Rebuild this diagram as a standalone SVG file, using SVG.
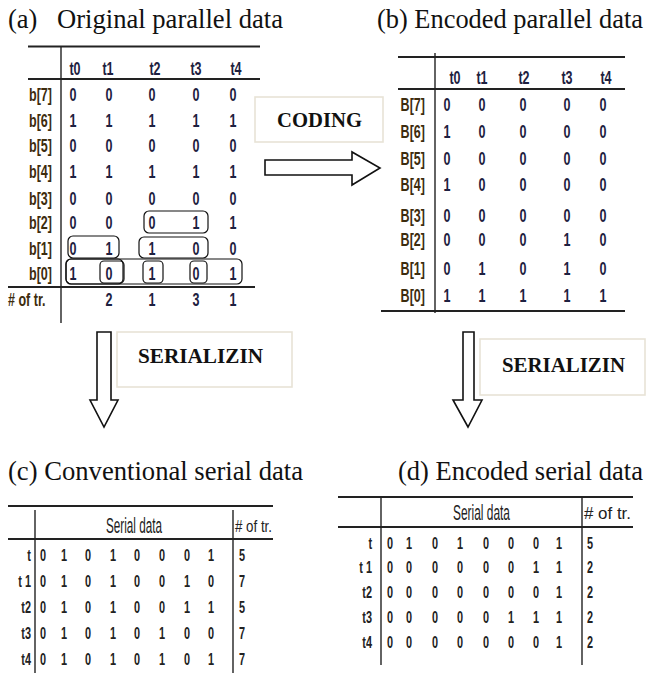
<svg xmlns="http://www.w3.org/2000/svg" width="646" height="673" viewBox="0 0 646 673">
  <style>
    .title { font-family: "Liberation Serif", "Times New Roman", serif; font-size: 26.5px; fill: #111; }
    .op { font-family: "Liberation Serif", "Times New Roman", serif; font-size: 21px; font-weight: bold; fill: #111; }
    .opbox { fill: #fff; stroke: #e8e3d6; stroke-width: 1.6; }
    .rule { stroke: #222; stroke-width: 2; fill: none; }
    .vrule { stroke: #222; stroke-width: 1.4; fill: none; }
    .pc { font-family: "Liberation Sans", Arial, sans-serif; font-size: 19px; font-weight: bold; text-anchor: middle; fill: #1e2140; }
    .pl { font-family: "Liberation Sans", Arial, sans-serif; font-size: 19px; font-weight: bold; text-anchor: end; fill: #3d2c0e; }
    .sc { font-family: "Liberation Sans", Arial, sans-serif; font-size: 16px; font-weight: bold; text-anchor: middle; fill: #222; }
    .sl { font-family: "Liberation Sans", Arial, sans-serif; font-size: 16px; font-weight: bold; text-anchor: end; fill: #222; }
    .sh { font-family: "Liberation Sans", Arial, sans-serif; font-size: 22px; fill: #222; }
    .st { font-family: "Liberation Sans", Arial, sans-serif; font-size: 17px; fill: #222; }
    .grp { fill: none; stroke: #111; stroke-width: 1.2; }
    .arrow { fill: #fff; stroke: #111; stroke-width: 1.6; stroke-linejoin: miter; }
  </style>

  <!-- panel titles -->
  <g id="title-a"><text class="title" y="28"><tspan x="8">(a)</tspan><tspan x="57" textLength="226" lengthAdjust="spacingAndGlyphs">Original parallel data</tspan></text></g>
  <g id="title-b"><text class="title" x="377" y="28" textLength="266" lengthAdjust="spacingAndGlyphs">(b) Encoded parallel data</text></g>
  <g id="title-c"><text class="title" x="8" y="480" textLength="295" lengthAdjust="spacingAndGlyphs">(c) Conventional serial data</text></g>
  <g id="title-d"><text class="title" x="398" y="480" textLength="245" lengthAdjust="spacingAndGlyphs">(d) Encoded serial data</text></g>

  <!-- (a) original parallel data -->
  <g id="table-a">
    <line class="rule" x1="28" y1="46.5" x2="260" y2="46.5"/>
    <line class="rule" x1="28" y1="79" x2="260" y2="79"/>
    <line class="rule" x1="8" y1="287" x2="255" y2="287"/>
    <line class="vrule" x1="61" y1="47" x2="61" y2="323"/>
    <g transform="scale(0.66,1)">
      <text class="pc" x="113.6" y="75">t0</text>
      <text class="pc" x="163.6" y="75">t1</text>
      <text class="pc" x="234.8" y="75">t2</text>
      <text class="pc" x="297" y="75">t3</text>
      <text class="pc" x="357.6" y="75">t4</text>
      <text class="pl" x="78.8" y="101.5">b[7]</text>
      <text class="pl" x="78.8" y="127">b[6]</text>
      <text class="pl" x="78.8" y="152">b[5]</text>
      <text class="pl" x="78.8" y="178">b[4]</text>
      <text class="pl" x="78.8" y="205">b[3]</text>
      <text class="pl" x="78.8" y="229">b[2]</text>
      <text class="pl" x="78.8" y="255">b[1]</text>
      <text class="pl" x="78.8" y="280">b[0]</text>
      <text class="pl" x="12.1" y="306" style="text-anchor:start">
# of tr.</text>
      <text class="pc" x="110.6 165.2 230.3 297 353" y="101.5">00000</text>
      <text class="pc" x="110.6 165.2 230.3 297 353" y="127">11111</text>
      <text class="pc" x="110.6 165.2 230.3 297 353" y="152">00000</text>
      <text class="pc" x="110.6 165.2 230.3 297 353" y="178">11111</text>
      <text class="pc" x="110.6 165.2 230.3 297 353" y="205">00000</text>
      <text class="pc" x="110.6 165.2 230.3 297 353" y="229">00011</text>
      <text class="pc" x="110.6 165.2 230.3 297 353" y="255">01100</text>
      <text class="pc" x="110.6 165.2 230.3 297 353" y="280">10101</text>
      <text class="pc" x="165.2 230.3 297 353" y="306">2131</text>
    </g>
    <!-- transition groupings -->
    <rect class="grp" x="144" y="211" width="64" height="22" rx="5"/>
    <rect class="grp" x="68" y="236" width="51" height="22" rx="5"/>
    <rect class="grp" x="139" y="237" width="69" height="21" rx="5"/>
    <rect class="grp" x="66" y="259" width="176" height="25" rx="5"/>
    <rect class="grp" x="66" y="259" width="57" height="25" rx="5"/>
    <rect class="grp" x="100" y="261" width="24" height="22" rx="4"/>
    <rect class="grp" x="143" y="261" width="20" height="22" rx="4"/>
    <rect class="grp" x="190" y="261" width="17" height="22" rx="4"/>
  </g>

  <!-- (b) encoded parallel data -->
  <g id="table-b">
    <line class="rule" x1="398" y1="57" x2="625" y2="57"/>
    <line class="rule" x1="398" y1="89" x2="625" y2="89"/>
    <line class="rule" x1="381" y1="311" x2="625" y2="311"/>
    <line class="vrule" x1="435" y1="53" x2="435" y2="313"/>
    <g transform="scale(0.66,1)">
      <text class="pc" x="689.4" y="84">t0</text>
      <text class="pc" x="730.3" y="84">t1</text>
      <text class="pc" x="793.9" y="84">t2</text>
      <text class="pc" x="859.1" y="84">t3</text>
      <text class="pc" x="918.2" y="84">t4</text>
      <text class="pl" x="643.9" y="111.5">B[7]</text>
      <text class="pl" x="643.9" y="138.5">B[6]</text>
      <text class="pl" x="643.9" y="165.5">B[5]</text>
      <text class="pl" x="643.9" y="191.5">B[4]</text>
      <text class="pl" x="643.9" y="222.5">B[3]</text>
      <text class="pl" x="643.9" y="246.5">B[2]</text>
      <text class="pl" x="643.9" y="275.5">B[1]</text>
      <text class="pl" x="643.9" y="302.5">B[0]</text>
      <text class="pc" x="677.3 730.3 792.4 859.1 913.6" y="111.5">00000</text>
      <text class="pc" x="677.3 730.3 792.4 859.1 913.6" y="138.5">10000</text>
      <text class="pc" x="677.3 730.3 792.4 859.1 913.6" y="165.5">00000</text>
      <text class="pc" x="677.3 730.3 792.4 859.1 913.6" y="191.5">10000</text>
      <text class="pc" x="677.3 730.3 792.4 859.1 913.6" y="222.5">00000</text>
      <text class="pc" x="677.3 730.3 792.4 859.1 913.6" y="246.5">00010</text>
      <text class="pc" x="677.3 730.3 792.4 859.1 913.6" y="275.5">01010</text>
      <text class="pc" x="677.3 730.3 792.4 859.1 913.6" y="302.5">11111</text>
    </g>
  </g>

  <!-- (c) conventional serial data -->
  <g id="table-c">
    <line class="rule" x1="8" y1="506" x2="273" y2="506"/>
    <line class="rule" x1="8" y1="539" x2="273" y2="539"/>
    <line class="vrule" x1="35" y1="510" x2="35" y2="673"/>
    <line class="vrule" x1="233" y1="510" x2="233" y2="673"/>
    <text class="sh" x="106" y="533" textLength="56" lengthAdjust="spacingAndGlyphs">Serial data</text>
    <text class="st" x="235" y="532" textLength="37" lengthAdjust="spacingAndGlyphs"># of tr.</text>
    <g transform="scale(0.68,1)">
      <text class="sl" x="45.6" y="561">t</text>
      <text class="sl" x="45.6" y="587">t 1</text>
      <text class="sl" x="45.6" y="613">t2</text>
      <text class="sl" x="45.6" y="639">t3</text>
      <text class="sl" x="45.6" y="665">t4</text>
      <text class="sc" x="63.2 94.1 129.4 166.2 201.5 238.2 275 310.3 355.9" y="561">010100015</text>
      <text class="sc" x="63.2 94.1 129.4 166.2 201.5 238.2 275 310.3 355.9" y="587">010100107</text>
      <text class="sc" x="63.2 94.1 129.4 166.2 201.5 238.2 275 310.3 355.9" y="613">010100115</text>
      <text class="sc" x="63.2 94.1 129.4 166.2 201.5 238.2 275 310.3 355.9" y="639">010101007</text>
      <text class="sc" x="63.2 94.1 129.4 166.2 201.5 238.2 275 310.3 355.9" y="665">010101017</text>
    </g>
  </g>

  <!-- (d) encoded serial data -->
  <g id="table-d">
    <line class="rule" x1="338" y1="497" x2="633" y2="497"/>
    <line class="rule" x1="338" y1="527" x2="633" y2="527"/>
    <line class="vrule" x1="381" y1="497" x2="381" y2="665"/>
    <line class="vrule" x1="582" y1="497" x2="582" y2="665"/>
    <text class="sh" x="453" y="520" textLength="57" lengthAdjust="spacingAndGlyphs">Serial data</text>
    <text class="st" x="584" y="519" textLength="47" lengthAdjust="spacingAndGlyphs"># of tr.</text>
    <g transform="scale(0.68,1)">
      <text class="sl" x="547.1" y="549">t</text>
      <text class="sl" x="547.1" y="573">t 1</text>
      <text class="sl" x="547.1" y="598">t2</text>
      <text class="sl" x="547.1" y="623">t3</text>
      <text class="sl" x="547.1" y="648">t4</text>
      <text class="sc" x="573.5 601.5 639.7 676.5 714.7 751.5 788.2 822.1 867.6" y="549">010100015</text>
      <text class="sc" x="573.5 601.5 639.7 676.5 714.7 751.5 788.2 822.1 867.6" y="573">000000112</text>
      <text class="sc" x="573.5 601.5 639.7 676.5 714.7 751.5 788.2 822.1 867.6" y="598">000000012</text>
      <text class="sc" x="573.5 601.5 639.7 676.5 714.7 751.5 788.2 822.1 867.6" y="623">000001112</text>
      <text class="sc" x="573.5 601.5 639.7 676.5 714.7 751.5 788.2 822.1 867.6" y="648">000000012</text>
    </g>
  </g>

  <!-- operation labels -->
  <g id="label-coding">
    <rect class="opbox" x="255" y="97" width="128" height="45"/>
    <text class="op" x="277" y="127" textLength="85" lengthAdjust="spacingAndGlyphs">CODING</text>
  </g>
  <g id="label-serial-left">
    <rect class="opbox" x="117" y="332" width="175" height="55"/>
    <text class="op" x="138" y="363" textLength="125" lengthAdjust="spacingAndGlyphs">SERIALIZIN</text>
  </g>
  <g id="label-serial-right">
    <rect class="opbox" x="480" y="339" width="165" height="56"/>
    <text class="op" x="502" y="372" textLength="123" lengthAdjust="spacingAndGlyphs">SERIALIZIN</text>
  </g>

  <!-- block arrows -->
  <g id="connectors">
    <polygon class="arrow" points="265,160 352,160 352,152 380,168 352,185 352,175 265,175"/>
    <polygon class="arrow" points="97,332 111,332 111,400 118,400 104,427 90,400 97,400"/>
    <polygon class="arrow" points="463,332 474,332 474,400 482,400 468,427 453,400 463,400"/>
  </g>
</svg>
